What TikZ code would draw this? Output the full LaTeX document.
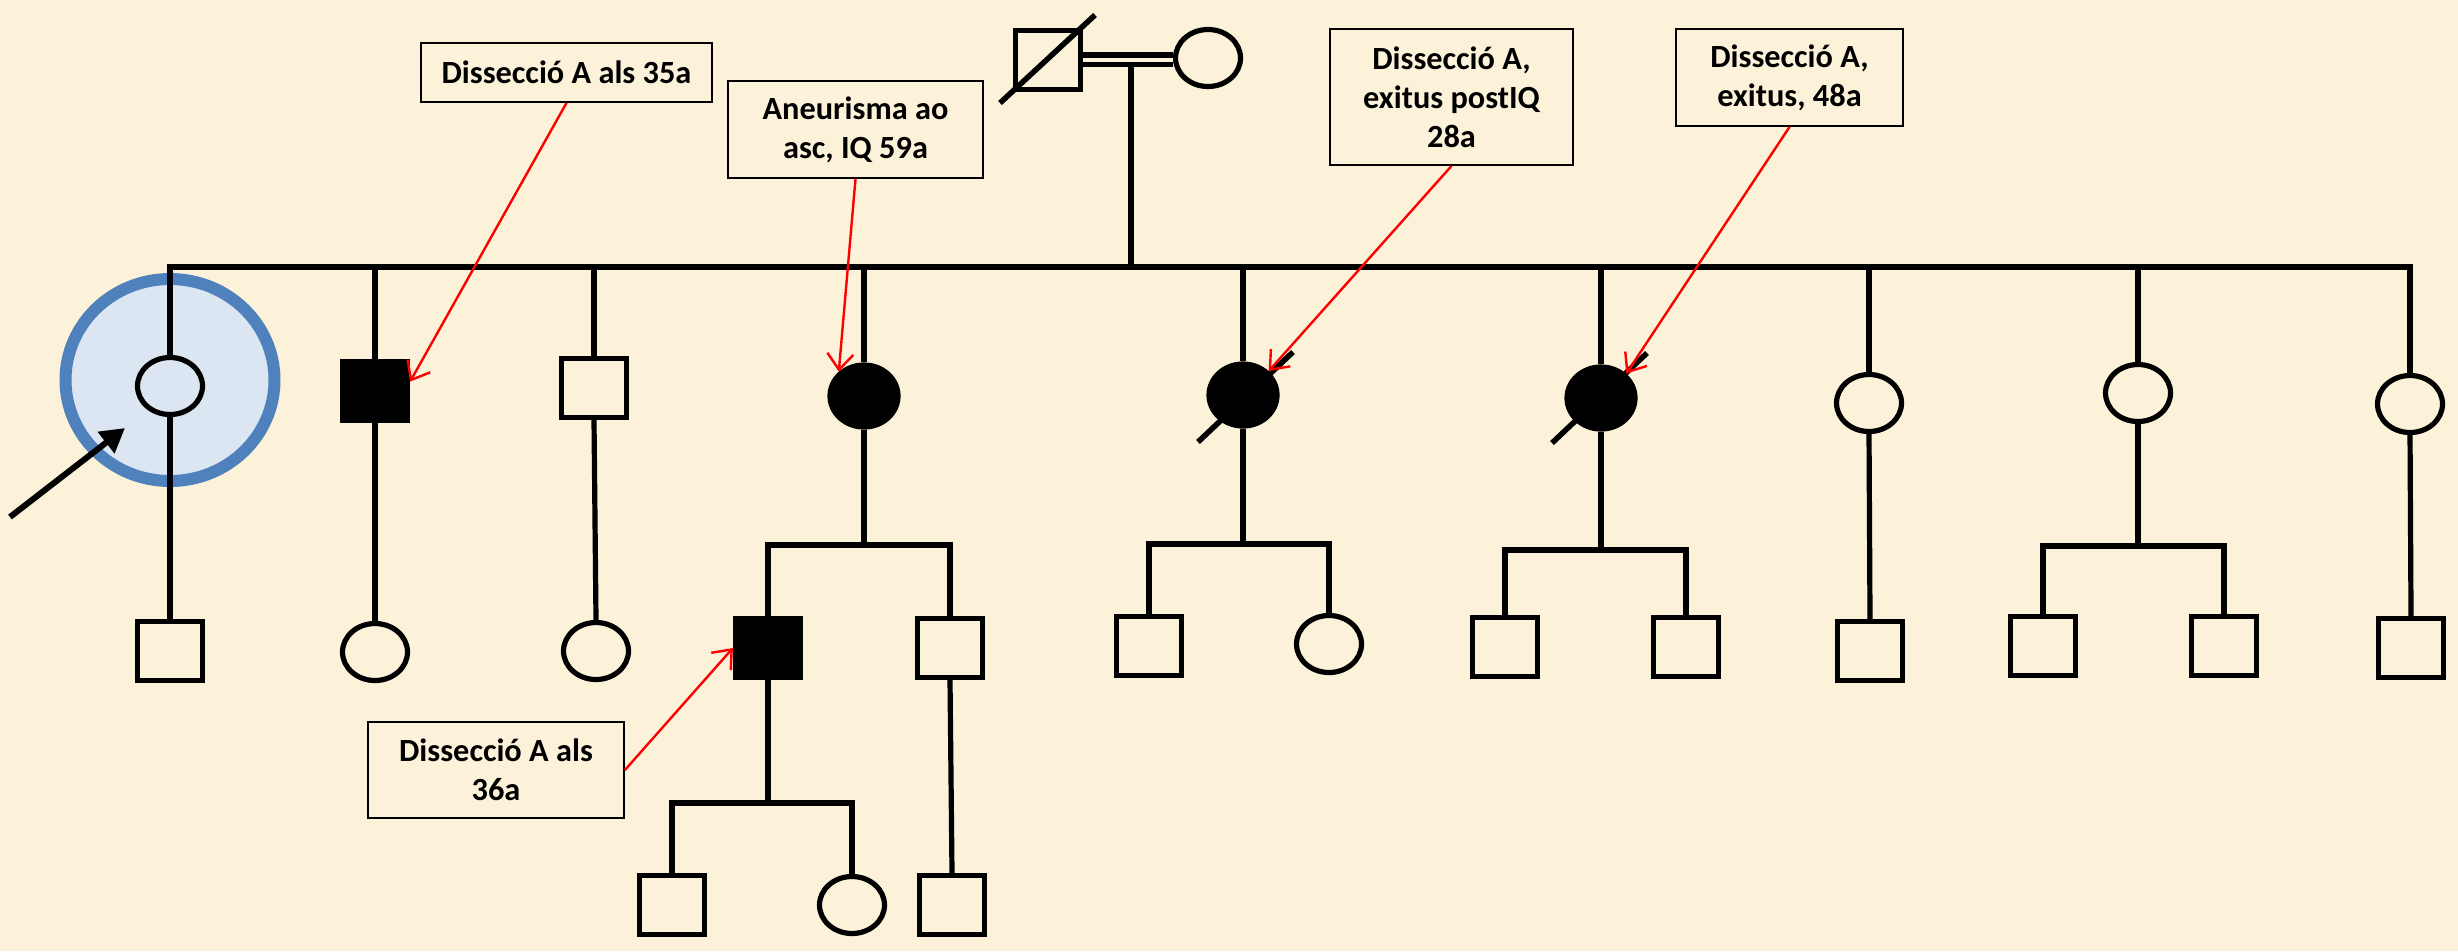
\documentclass[tikz,border=0pt]{standalone}
\usepackage{fontspec}
\setmainfont{Carlito}
\usetikzlibrary{arrows.meta,shapes.geometric,calc}
\definecolor{bg}{RGB}{252,242,218}
\definecolor{ringblue}{RGB}{79,129,189}
\definecolor{ringfill}{RGB}{220,230,242}
\begin{document}
\begin{tikzpicture}[x=0.1mm,y=-0.1mm,
  line width=0.52mm,
  male/.style={draw=black, rectangle, minimum width=6.5mm, minimum height=5.9mm, inner sep=0pt, line width=0.52mm},
  female/.style={draw=black, ellipse, minimum width=6.5mm, minimum height=5.7mm, inner sep=0pt, line width=0.52mm},
  aff/.style={fill=black},
  affc/.style={fill=black, minimum width=6.8mm, minimum height=6.2mm},
  note/.style={draw=black, line width=0.18mm, rectangle, inner sep=0pt, align=center, font=\fontsize{9.2}{11.1}\selectfont\bfseries},
  redarr/.style={draw=red, line width=0.24mm, -{Straight Barb[length=1.6mm,width=2.6mm]}},
  slash/.style={line width=0.55mm},
]
\fill[bg] (0,0) rectangle (2458,951);
\useasboundingbox (0,0) rectangle (2458,951);

% proband highlight
\node[ellipse, draw=ringblue, fill=ringfill, line width=1.2mm, minimum width=20.9mm, minimum height=20.2mm, inner sep=0pt] (ring) at (170,380) {};

% generation I
\node[male] (F) at (1048,60) {};
\node[female] (Mo) at (1208,58) {};
\coordinate (M) at (1131,59.5);
\coordinate (SL) at (170,267);
\coordinate (SR) at (2410,267);
\draw (M) -- (M |- SL);
\draw[double=bg, double distance=0.4mm, line width=0.52mm] (F.east |- M) -- (Mo.west |- M);
\draw[slash] ($(F.center)+(-48,43)$) -- ($(F.center)+(47,-45)$);

% generation II
\node[female] (P1) at (170,386) {};
\node[male,aff] (P2) at (375,391) {};
\node[male] (P3) at (594,388) {};
\node[female,affc] (P4) at (864,396) {};
\node[female,affc] (P5) at (1243,395) {};
\node[female,affc] (P6) at (1601,398) {};
\node[female] (P7) at (1869,403) {};
\node[female] (P8) at (2138,393) {};
\node[female] (P9) at (2410,404) {};

\draw (P1.north) -- (SL) -- (SR) -- (P9.north);
\foreach \p in {P2,P3,P4,P5,P6,P7,P8} {\draw (\p.north) -- (\p.north |- SL);}

\draw[slash] ($(P5.center)+(-45,47)$) -- ($(P5.center)+(50,-43)$);
\draw[slash] ($(P6.center)+(-49,45)$) -- ($(P6.center)+(46,-45)$);

% proband arrow
\coordinate (PA) at (10,517);
\draw[line width=0.6mm, -{Triangle[length=2.4mm,width=2.6mm]}] (PA) -- ($(P1.center)+(-45,42)$);

% generation III
\node[male] (C1) at (170,651) {};
\node[female] (C2) at (375,652) {};
\node[female] (C3) at (596,651) {};
\draw (P1.south) -- (C1.north);
\draw (P2.south) -- (C2.north);
\draw (P3.south) -- (C3.north);

\coordinate (S4) at (864,545);
\node[male,aff] (G1) at (768,648) {};
\node[male] (G2) at (950,648) {};
\draw (P4.south) -- (S4);
\draw (G1.north) -- (G1.north |- S4) -- (G2.north |- S4) -- (G2.north);

\coordinate (S5) at (1243,544);
\node[male] (G3) at (1149,646) {};
\node[female] (G4) at (1329,644) {};
\draw (P5.south) -- (S5);
\draw (G3.north) -- (G3.north |- S5) -- (G4.north |- S5) -- (G4.north);

\coordinate (S6) at (1601,550);
\node[male] (G5) at (1505,647) {};
\node[male] (G6) at (1686,647) {};
\draw (P6.south) -- (S6);
\draw (G5.north) -- (G5.north |- S6) -- (G6.north |- S6) -- (G6.north);

\node[male] (G7) at (1870,651) {};
\draw (P7.south) -- (G7.north);

\coordinate (S8) at (2138,546);
\node[male] (G8) at (2043,646) {};
\node[male] (G9) at (2224,646) {};
\draw (P8.south) -- (S8);
\draw (G8.north) -- (G8.north |- S8) -- (G9.north |- S8) -- (G9.north);

\node[male] (G10) at (2411,648) {};
\draw (P9.south) -- (G10.north);

% generation IV
\coordinate (S11) at (768,803);
\node[male] (H1) at (672,905) {};
\node[female] (H2) at (852,905) {};
\node[male] (H3) at (952,905) {};
\draw (G1.south) -- (S11);
\draw (H1.north) -- (H1.north |- S11) -- (H2.north |- S11) -- (H2.north);
\draw (G2.south) -- (H3.north);

% notes
\node[note, minimum width=29.1mm, minimum height=5.9mm] (B1) at (566.5,72.5) {Dissecció A als 35a};
\node[note, minimum width=25.5mm, minimum height=9.7mm] (B2) at (855.5,129.5) {Aneurisma ao\\asc, IQ 59a};
\node[note, minimum width=24.3mm, minimum height=13.6mm] (B3) at (1451.5,97) {Dissecció A,\\exitus postIQ\\28a};
\node[note, minimum width=22.7mm, minimum height=9.7mm] (B4) at (1789.5,77.5) {Dissecció A,\\exitus, 48a};
\node[note, minimum width=25.6mm, minimum height=9.6mm] (B5) at (496,770) {Dissecció A als\\36a};

\draw[redarr] (B1.south) -- (P2.15);
\draw[redarr] (B2.south) -- (P4.136);
\draw[redarr] (B3.south) -- (P5.43);
\draw[redarr] (B4.south) -- (P6.44);
\draw[redarr] (B5.east) -- (G1.west);
\end{tikzpicture}
\end{document}
